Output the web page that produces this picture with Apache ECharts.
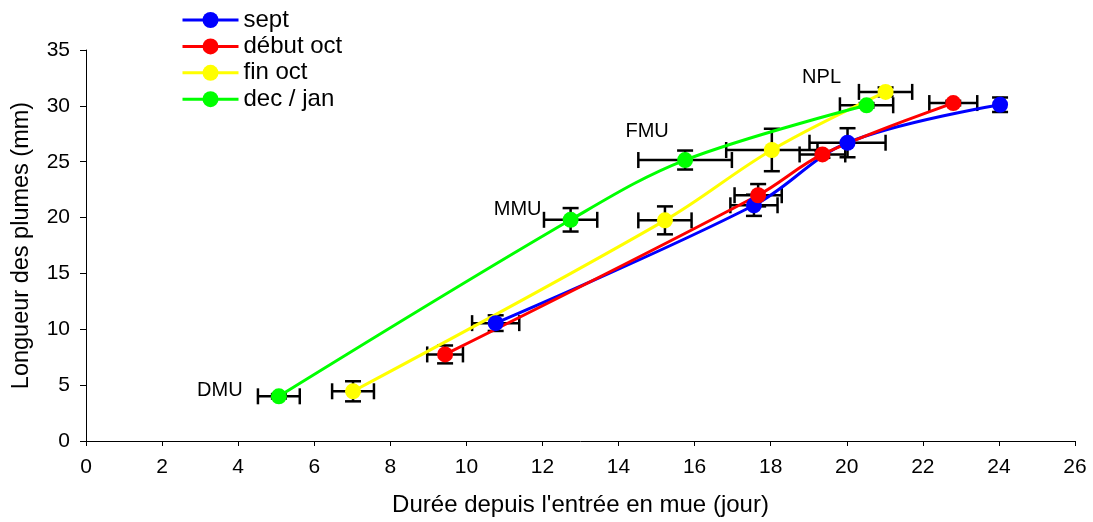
<!DOCTYPE html>
<html>
<head>
<meta charset="utf-8">
<script src="https://cdn.jsdelivr.net/npm/echarts@6/dist/echarts.min.js"></script>
<style>html,body{margin:0;padding:0;background:#fff}#c{width:1093px;height:522px}</style>
</head>
<body>
<div id="c"></div>
<script>
// Data
const seriesNames = ['sept', 'début oct', 'fin oct', 'dec / jan'];
const seriesColors = ['#0000ff', '#ff0000', '#ffff00', '#00ff00'];
// [x (days), y (mm)]
const septPts   = [[10.77, 10.55], [17.56, 21.1], [20.02, 26.7], [24.03, 30.1]];
const debutPts  = [[9.44, 7.75], [17.67, 22.0], [19.36, 25.65], [22.8, 30.25]];
const finPts    = [[7.02, 4.45], [15.22, 19.75], [18.03, 26.05], [21.02, 31.25]];
const decPts    = [[5.07, 4.0], [12.74, 19.8], [15.75, 25.15], [20.52, 30.05]];
// [x error, y error]
const septErr   = [[0.62, 0.7], [0.62, 0.95], [1.0, 1.3], [0.08, 0.65]];
const debutErr  = [[0.47, 0.8], [0.62, 1.0], [0.6, 0.3], [0.63, 0.2]];
const finErr    = [[0.55, 0.9], [0.7, 1.25], [1.2, 1.9], [0.7, 0.4]];
const decErr    = [[0.55, 0.2], [0.7, 1.05], [1.23, 0.85], [0.7, 0.2]];
const stageLabels = ['DMU', 'MMU', 'FMU', 'NPL'];

const allPts = [septPts, debutPts, finPts, decPts];
const allErr = [septErr, debutErr, finErr, decErr];

const labelOffsets = [[-59, -6], [-53, -10], [-38, -29], [-45, -28]];

const font = 'Liberation Sans, Arial, sans-serif';
const chart = echarts.init(document.getElementById('c'));

const series = [];
// error bars
allPts.forEach((pts, i) => {
  series.push({
    type: 'custom',
    name: 'err' + i,
    z: 2,
    encode: { x: 0, y: 1 },
    data: pts.map((p, k) => [p[0], p[1], allErr[i][k][0], allErr[i][k][1]]),
    renderItem: function (params, api) {
      const x = api.value(0), y = api.value(1), ex = api.value(2), ey = api.value(3);
      const l = api.coord([x - ex, y]), r = api.coord([x + ex, y]);
      const t = api.coord([x, y + ey]), b = api.coord([x, y - ey]);
      const cap = 8;
      const st = { stroke: '#000', lineWidth: 2.5 };
      return {
        type: 'group',
        children: [
          { type: 'line', shape: { x1: l[0], y1: l[1], x2: r[0], y2: r[1] }, style: st },
          { type: 'line', shape: { x1: l[0], y1: l[1] - cap, x2: l[0], y2: l[1] + cap }, style: st },
          { type: 'line', shape: { x1: r[0], y1: r[1] - cap, x2: r[0], y2: r[1] + cap }, style: st },
          { type: 'line', shape: { x1: t[0], y1: t[1], x2: b[0], y2: b[1] }, style: st },
          { type: 'line', shape: { x1: t[0] - cap, y1: t[1], x2: t[0] + cap, y2: t[1] }, style: st },
          { type: 'line', shape: { x1: b[0] - cap, y1: b[1], x2: b[0] + cap, y2: b[1] }, style: st }
        ]
      };
    }
  });
});
// lines with markers
allPts.forEach((pts, i) => {
  series.push({
    type: 'line',
    name: seriesNames[i],
    z: 3,
    smooth: 0.35,
    symbol: 'circle',
    symbolSize: 16,
    color: seriesColors[i],
    lineStyle: { width: 3, color: seriesColors[i] },
    itemStyle: { color: seriesColors[i] },
    data: pts.map((p, k) => {
      const d = { value: p };
      if (i === 3) {
        d.label = {
          show: true,
          formatter: stageLabels[k],
          position: 'inside',
          offset: labelOffsets[k],
          color: '#000',
          fontSize: 20,
          fontFamily: font
        };
      }
      return d;
    })
  });
});

chart.setOption({
  animation: false,
  backgroundColor: '#fff',
  grid: { left: 86, right: 18, top: 50, bottom: 78 },
  legend: {
    data: seriesNames,
    orient: 'vertical',
    left: 181,
    top: 8,
    padding: 0,
    itemWidth: 56,
    itemHeight: 20,
    itemGap: 2.4,
    lineStyle: { width: 3 },
    textStyle: { fontSize: 24, lineHeight: 24, color: '#000', fontFamily: font, padding: [0, 0, 0, 0] }
  },
  xAxis: {
    type: 'value',
    min: 0, max: 26, interval: 2,
    name: "Durée depuis l'entrée en mue (jour)",
    nameLocation: 'middle',
    nameGap: 52,
    nameTextStyle: { fontSize: 24, color: '#000', fontFamily: font },
    axisLine: { lineStyle: { color: '#000', width: 1 } },
    axisTick: { show: true, length: 5, lineStyle: { color: '#000' } },
    axisLabel: { fontSize: 21, color: '#000', fontFamily: font, margin: 16 },
    splitLine: { show: false }
  },
  yAxis: {
    type: 'value',
    min: 0, max: 35, interval: 5,
    name: 'Longueur des plumes (mm)',
    nameLocation: 'middle',
    nameGap: 52,
    nameTextStyle: { fontSize: 23.5, color: '#000', fontFamily: font },
    axisLine: { show: true, lineStyle: { color: '#000', width: 1 } },
    axisTick: { show: true, length: 6, lineStyle: { color: '#000' } },
    axisLabel: { fontSize: 21, color: '#000', fontFamily: font, margin: 16 },
    splitLine: { show: false }
  },
  series: series
});
</script>
</body>
</html>
